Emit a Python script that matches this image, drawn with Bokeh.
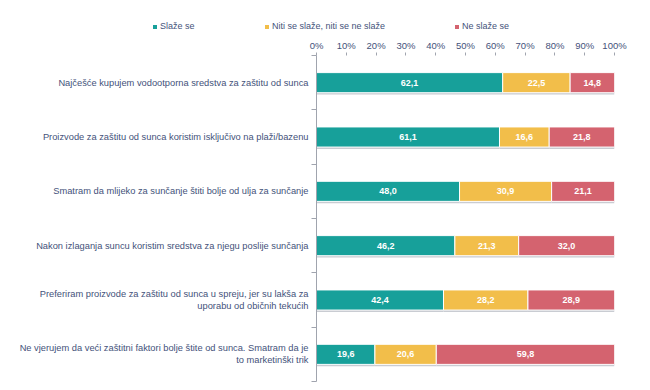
from bokeh.plotting import figure
from bokeh.layouts import column
from bokeh.models import (ColumnDataSource, Range1d, LinearAxis, FixedTicker,
                          PrintfTickFormatter, Legend, LegendItem)
from bokeh.embed import file_html
from bokeh.resources import INLINE
from bokeh.core.properties import value

categories = [
    "Najčešće kupujem vodootporna sredstva za zaštitu od sunca",
    "Proizvode za zaštitu od sunca koristim isključivo na plaži/bazenu",
    "Smatram da mlijeko za sunčanje štiti bolje od ulja za sunčanje",
    "Nakon izlaganja suncu koristim sredstva za njegu poslije sunčanja",
    "Preferiram proizvode za zaštitu od sunca u spreju, jer su lakša za\nuporabu od običnih tekućih",
    "Ne vjerujem da veći zaštitni faktori bolje štite od sunca. Smatram da je\nto marketinški trik",
]
series_names = ["Slaže se", "Niti se slaže, niti se ne slaže", "Ne slaže se"]
slaze = [62.1, 61.1, 48.0, 46.2, 42.4, 19.6]
niti = [22.5, 16.6, 30.9, 21.3, 28.2, 20.6]
ne = [14.8, 21.8, 21.1, 32.0, 28.9, 59.8]
x_ticks = [0, 10, 20, 30, 40, 50, 60, 70, 80, 90, 100]

colors = ["#17A09A", "#F2BE4A", "#D4636F"]
FONT = "Liberation Sans"
TXT = "#44527A"

n = len(categories)
ys = list(range(n))
series = [slaze, niti, ne]
totals = [sum(v) for v in zip(*series)]

p = figure(width=650, height=354, output_backend="svg", toolbar_location=None,
           x_range=Range1d(0, 100), y_range=Range1d(n - 0.5, -0.5),
           x_axis_location="above", y_axis_location=None,
           min_border_left=316, min_border_right=36, min_border_top=19,
           min_border_bottom=9)
p.frame_align = False
p.outline_line_color = None
p.xgrid.visible = False
p.ygrid.visible = False

# legend strip (separate figure so the legend is not clipped by the bar frame)
lf = figure(width=650, height=36, output_backend="svg", toolbar_location=None,
            x_range=Range1d(0, 100), y_range=Range1d(-3, -2),
            x_axis_location=None, y_axis_location=None,
            min_border_left=0, min_border_right=0, min_border_top=0,
            min_border_bottom=0)
lf.frame_align = False
lf.outline_line_color = None
lf.xgrid.visible = False
lf.ygrid.visible = False

bar_h = 0.37
leg_r = []
left = [0.0] * n
for k, vals in enumerate(series):
    shares = [v / t * 100 for v, t in zip(vals, totals)]
    right = [l + s for l, s in zip(left, shares)]
    src = ColumnDataSource(dict(
        y=ys, y_sh=[y + 0.035 for y in ys], left=left, right=right,
        mid=[(l + r) / 2 for l, r in zip(left, right)],
        lab=[f"{v:.1f}".replace(".", ",") for v in vals]))
    p.hbar(y="y_sh", left="left", right="right", height=bar_h, source=src,
           fill_color="#C9CCD2", line_color=None)
    p.hbar(y="y", left="left", right="right", height=bar_h, source=src,
           fill_color=colors[k], line_color="white", line_width=1)
    p.text(x="mid", y="y", text="lab", source=src, text_color="white",
           text_font=value(FONT), text_font_size="9px", text_font_style="bold",
           text_align="center", text_baseline="middle")
    # same series in the legend strip, hidden, only providing the legend swatch
    lr = lf.hbar(y="y", left="left", right="right", height=bar_h, source=src,
                 fill_color=colors[k], line_color=None)
    lr.visible = False
    leg_r.append(lr)
    left = right

# top axis
xa = p.xaxis[0]
xa.ticker = FixedTicker(ticks=x_ticks)
xa.formatter = PrintfTickFormatter(format="%d%%")
xa.axis_line_color = None
xa.major_tick_line_color = "#A0A4AE"
xa.major_tick_out = 3
xa.major_tick_in = 0
xa.minor_tick_line_color = None
xa.major_label_text_font = FONT
xa.major_label_text_font_size = "9.5px"
xa.major_label_text_color = TXT
xa.major_label_standoff = 2

# left axis with category labels
ya = LinearAxis(ticker=FixedTicker(ticks=ys, minor_ticks=[y - 0.5 for y in range(n + 1)]))
ya.major_label_overrides = {y: c for y, c in zip(ys, categories)}
ya.axis_line_color = "#A0A4AE"
ya.major_tick_line_color = None
ya.major_tick_out = 0
ya.major_tick_in = 0
ya.minor_tick_line_color = "#A0A4AE"
ya.minor_tick_out = 5
ya.minor_tick_in = 0
ya.major_label_text_font = FONT
ya.major_label_text_font_size = "9.3px"
ya.major_label_text_color = TXT
ya.major_label_standoff = 3
p.add_layout(ya, "left")

legend_x = [152, 264, 454]
for name, r, lx in zip(series_names, leg_r, legend_x):
    lg = Legend(items=[LegendItem(label=name, renderers=[r])],
                orientation="horizontal", location=(lx, 5),
                glyph_width=5, glyph_height=5, label_standoff=3,
                label_text_font=FONT, label_text_font_size="9px",
                label_text_color=TXT, border_line_color=None,
                background_fill_alpha=0, padding=4, margin=0, label_height=10,
                inactive_fill_alpha=0)
    lf.add_layout(lg, "center")

open("out.html", "w").write(file_html(column(lf, p, spacing=0), INLINE))
